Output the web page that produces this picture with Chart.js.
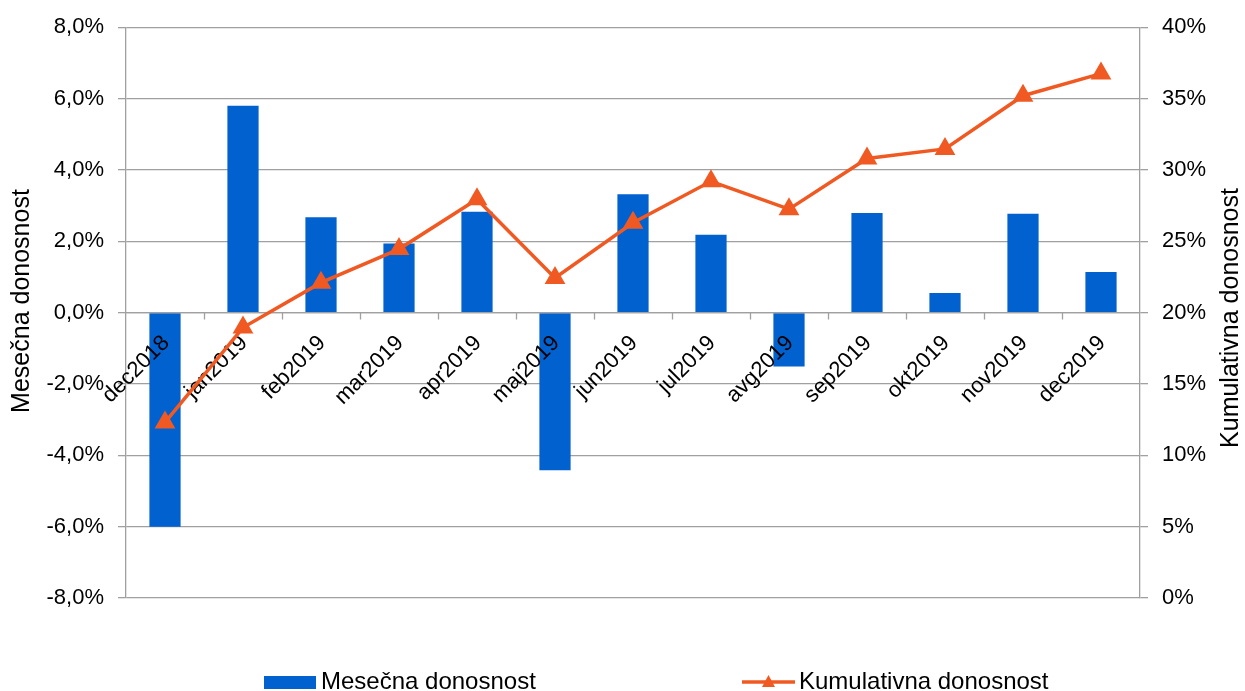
<!DOCTYPE html>
<html>
<head>
<meta charset="utf-8">
<script src="https://cdn.jsdelivr.net/npm/chart.js@4.4.0/dist/chart.umd.min.js"></script>
<style>
  html, body { margin: 0; padding: 0; background: #fff; }
  canvas { display: block; }
</style>
</head>
<body>
<canvas id="chartViz" width="1245" height="691"></canvas>
<script>
var months = ["dec2018", "jan2019", "feb2019", "mar2019", "apr2019", "maj2019", "jun2019",
              "jul2019", "avg2019", "sep2019", "okt2019", "nov2019", "dec2019"];
// monthly return, %
var mesecna = [-6.0, 5.8, 2.67, 1.94, 2.83, -4.42, 3.32, 2.18, -1.51, 2.79, 0.55, 2.77, 1.14];
// cumulative return, %
var kumulativna = [12.3, 18.95, 22.1, 24.45, 27.95, 22.43, 26.3, 29.2, 27.25, 30.8, 31.47, 35.2, 36.75];
var leftTicks = [-8, -6, -4, -2, 0, 2, 4, 6, 8];
var rightTicks = [0, 5, 10, 15, 20, 25, 30, 35, 40];

var FONT = "'Liberation Sans', Arial, sans-serif";
var BLUE = "#0061CF";
var ORANGE = "#F05A22";
var GRID = "#A0A0A0";

function pctComma(v){
    return v.toFixed(1).replace(".", ",") + "%";
}

// category axis sits on the 0% line, labels slanted under it
var zeroAxis = {
    id: "zeroAxis",
    afterDatasetDraw: function(chart, args){
        if (args.index !== 0) return;
        var ctx = chart.ctx;
        var x = chart.scales.x, y = chart.scales.y;
        var y0 = y.getPixelForValue(0);
        var step = x.getPixelForValue(1) - x.getPixelForValue(0);
        ctx.save();
        ctx.strokeStyle = GRID;
        ctx.lineWidth = 1.3;
        ctx.beginPath();
        ctx.moveTo(chart.chartArea.left, y0);
        ctx.lineTo(chart.chartArea.right, y0);
        for (var k = 1; k < months.length; k++){
            var bx = Math.round(x.getPixelForValue(k) - step / 2) + 0.5;
            ctx.moveTo(bx, y0);
            ctx.lineTo(bx, y0 + 7);
        }
        ctx.stroke();
        ctx.fillStyle = "#000";
        ctx.font = "22px " + FONT;
        ctx.textAlign = "right";
        ctx.textBaseline = "middle";
        months.forEach(function(m, i){
            ctx.save();
            ctx.translate(x.getPixelForValue(i) + 1, y0 + 27);
            ctx.rotate(-Math.PI / 4);
            ctx.fillText(m, 0, 0);
            ctx.restore();
        });
        ctx.restore();
    }
};

// axis titles (both read bottom-up) and the legend row
var extras = {
    id: "extras",
    afterDraw: function(chart){
        var ctx = chart.ctx;
        ctx.save();
        ctx.fillStyle = "#000";
        ctx.textAlign = "center";
        ctx.textBaseline = "middle";
        ctx.font = "25px " + FONT;
        [[22, 301, "Mesečna donosnost"], [1231, 318, "Kumulativna donosnost"]].forEach(function(t){
            ctx.save();
            ctx.translate(t[0], t[1]);
            ctx.rotate(-Math.PI / 2);
            ctx.fillText(t[2], 0, 0);
            ctx.restore();
        });

        var ly = 682;
        ctx.font = "24px " + FONT;
        ctx.textAlign = "left";
        ctx.fillStyle = BLUE;
        ctx.fillRect(264, 676, 52, 13);
        ctx.fillStyle = "#000";
        ctx.fillText(chart.data.datasets[0].label, 321, ly);

        ctx.strokeStyle = ORANGE;
        ctx.lineWidth = 3.5;
        ctx.beginPath();
        ctx.moveTo(742, ly);
        ctx.lineTo(795, ly);
        ctx.stroke();
        ctx.fillStyle = ORANGE;
        ctx.beginPath();
        ctx.moveTo(768.5, ly - 7);
        ctx.lineTo(775, ly + 5);
        ctx.lineTo(762, ly + 5);
        ctx.closePath();
        ctx.fill();
        ctx.fillStyle = "#000";
        ctx.fillText(chart.data.datasets[1].label, 799, ly);
        ctx.restore();
    }
};

var config = {
    data: {
        labels: months,
        datasets: [
            {
                type: "bar",
                label: "Mesečna donosnost",
                data: mesecna,
                yAxisID: "y",
                backgroundColor: BLUE,
                barPercentage: 0.4,
                categoryPercentage: 1.0,
                order: 2
            },
            {
                type: "line",
                label: "Kumulativna donosnost",
                data: kumulativna,
                yAxisID: "y1",
                borderColor: ORANGE,
                backgroundColor: ORANGE,
                borderWidth: 3.5,
                pointStyle: "triangle",
                pointRadius: 12,
                pointBorderWidth: 0,
                tension: 0,
                fill: false,
                order: 1
            }
        ]
    },
    options: {
        responsive: false,
        animation: false,
        layout: { padding: { top: 26, bottom: 93, left: 0, right: 0 } },
        plugins: {
            legend: { display: false },
            tooltip: { enabled: false }
        },
        scales: {
            x: {
                type: "category",
                display: false,
                offset: true
            },
            y: {
                position: "left",
                min: -8,
                max: 8,
                afterBuildTicks: function(s){ s.ticks = leftTicks.map(function(v){ return { value: v }; }); },
                afterFit: function(s){ s.width = 126; },
                ticks: {
                    callback: function(v){ return pctComma(v); },
                    color: "#000",
                    padding: 14,
                    font: { family: FONT, size: 22 }
                },
                grid: { color: GRID, lineWidth: 1.3, tickLength: 8, drawTicks: true },
                border: { display: true, color: GRID, width: 1.3 }
            },
            y1: {
                position: "right",
                min: 0,
                max: 40,
                afterBuildTicks: function(s){ s.ticks = rightTicks.map(function(v){ return { value: v }; }); },
                afterFit: function(s){ s.width = 105; },
                ticks: {
                    callback: function(v){ return v + "%"; },
                    color: "#000",
                    padding: 14,
                    font: { family: FONT, size: 22 }
                },
                grid: { drawOnChartArea: false, color: GRID, lineWidth: 1.3, tickLength: 8, drawTicks: true },
                border: { display: true, color: GRID, width: 1.3 }
            }
        }
    },
    plugins: [zeroAxis, extras]
};

window.onload = function(){
    var context = document.getElementById("chartViz").getContext("2d");
    new Chart(context, config);
};
</script>
</body>
</html>
